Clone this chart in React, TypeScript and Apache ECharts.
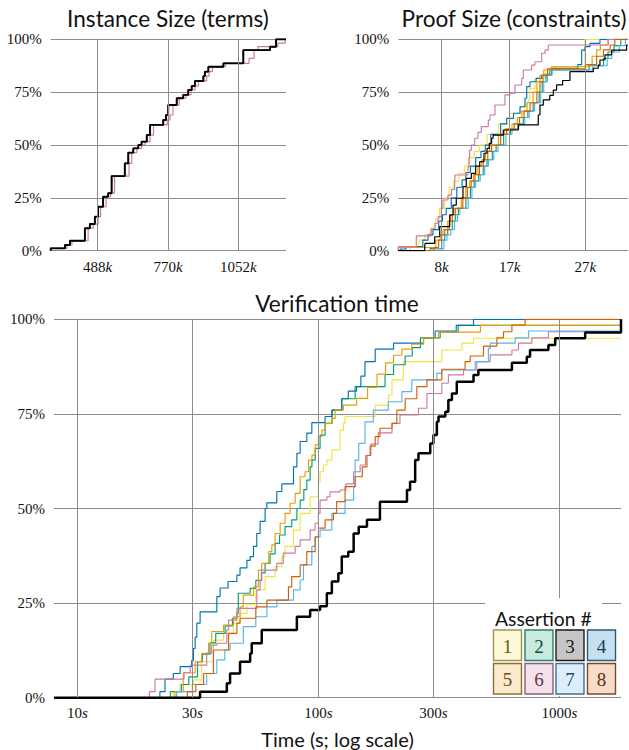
import React, { useEffect, useRef } from 'react';
import * as echarts from 'echarts';

const SERIF = '"Liberation Serif", "DejaVu Serif", serif';
const SANS = 'Lato, "Noto Sans", sans-serif';
const GRID = '#8c8c8c';

const assertionNames = ['1', '2', '3', '4', '5', '6', '7', '8'];
const assertionColors = ['#F0E442', '#009E73', '#000000', '#0072B2', '#E69F00', '#CC79A7', '#56B4E9', '#D55E00'];
const legendFill = ['#FDF8D8', '#C9EADF', '#C6C6C6', '#C7DFEE', '#FBEACB', '#F4E1EB', '#DCEEFA', '#F8DCC7'];
const legendStroke = ['#9C9550', '#2E7D64', '#1A1A1A', '#2C5A7A', '#8B7233', '#8A6079', '#41708E', '#7B4A2A'];
const legendText = ['#5F5A1A', '#0E4D3B', '#1A1A1A', '#123E5F', '#6A4D14', '#5A3D4F', '#1E4C6B', '#5A2E12'];

const pctTicks = [0, 25, 50, 75, 100];
const instanceTicks = [488, 770, 1052];
const proofTicks = [8, 17, 27];
const timeTicks = [10, 30, 100, 300, 1000];

// Instance size (thousands of terms) vs cumulative %
const instanceMain = [[300, 0], [300, 1.1], [357, 2.7], [377, 4.7], [437, 10.6], [457, 12.6], [477, 16.1], [490, 20.8], [510, 25.5], [530, 27.2], [544, 35.3], [597, 41.3], [611, 46.4], [631, 48.4], [651, 50], [664, 51.6], [685, 54.7], [698, 59.5], [751, 61.8], [762, 64.2], [771, 68.9], [805, 72.1], [831, 73.7], [851, 76], [865, 77.9], [878, 80.3], [912, 82.6], [918, 84.7], [932, 87], [992, 88.6], [1072, 94.9], [1179, 96.5], [1203, 100], [1243, 100]];
const instancePink = [[300, 0], [300, 1.1], [365, 2.7], [385, 4.7], [450, 10.6], [470, 12.6], [490, 16.1], [500, 20.8], [522, 25.5], [540, 27.2], [556, 35.3], [614, 41.3], [625, 46.4], [645, 48.4], [664, 50], [678, 51.6], [698, 54.7], [712, 59.5], [767, 61.8], [778, 64.2], [790, 68.9], [815, 72.1], [842, 73.7], [862, 76], [878, 77.9], [892, 80.3], [925, 82.6], [935, 84.7], [948, 87], [1000, 88.6], [1095, 91], [1115, 94.9], [1130, 96.5], [1210, 98.2], [1240, 100], [1243, 100]];

// Proof size (thousands of constraints) vs cumulative %
const proof1 = [[2.26, 0], [3.8, 1.5], [5.0, 5], [5.8, 7.5], [6.5, 10], [7.2, 15], [7.7, 20], [8.4, 25], [9.0, 30], [9.6, 33], [10.3, 36.5], [11.0, 40], [11.7, 44], [12.3, 47], [13.0, 50], [14.0, 55], [15.5, 60], [17.0, 65], [18.4, 68], [19.2, 70], [19.46, 71.3], [19.68, 76.8], [20.34, 81.5], [21.67, 83.9], [22.55, 86.3], [23.0, 87], [26.96, 100], [32.65, 100]];
const proof2 = [[2.26, 0], [6.5, 1], [8.0, 5], [8.4, 7.5], [8.8, 10], [9.4, 14], [9.8, 17], [10.2, 20], [11.2, 25], [11.8, 30], [12.3, 33], [12.9, 36], [13.5, 40], [14.0, 43], [14.7, 47], [15.2, 50], [16.2, 55], [17.1, 57.5], [18.1, 60], [18.8, 63], [19.4, 66], [20.1, 70], [20.9, 75], [21.3, 80], [21.8, 83], [22.3, 85.5], [27.5, 87.5], [29.4, 91], [30.0, 94], [30.8, 97], [31.7, 100], [32.65, 100]];
const proof3 = [[2.26, 0], [5.75, 1.9], [5.8, 3.5], [7.07, 6.6], [7.74, 11.4], [9.06, 16.9], [9.5, 21.6], [9.93, 24.8], [10.82, 30.3], [11.25, 34.2], [11.92, 36.6], [12.5, 40], [13.03, 42.1], [13.6, 46.1], [14.0, 48.4], [14.3, 50.8], [14.6, 53.2], [14.8, 54.7], [16.15, 57.1], [18.13, 59.5], [20.78, 64.2], [21.0, 68.9], [21.44, 71.3], [22.3, 73.5], [22.77, 76], [23.2, 78.4], [24.0, 80.5], [24.97, 84.7], [28.06, 86.3], [28.72, 87.8], [28.94, 90.2], [29.6, 92.6], [30.49, 94.9], [32.47, 97.3], [32.65, 97.3]];
const proof4 = [[2.26, 0], [2.5, 0.8], [3.3, 1.9], [5.5, 5], [6.2, 7.5], [6.85, 10], [7.6, 14], [8.1, 17], [8.6, 20], [9.27, 25], [10.0, 30], [10.7, 33.5], [11.2, 37], [11.8, 40], [12.5, 44], [13.2, 47], [13.77, 50], [14.5, 55], [15.8, 60], [16.6, 62.6], [17.5, 65], [18.36, 68.1], [19.02, 72.1], [19.25, 77.6], [19.68, 79.9], [20.5, 81.5], [21.23, 83.1], [22.55, 86.3], [26.0, 88], [26.52, 94.9], [26.96, 96.5], [27.62, 98.1], [28.94, 100], [32.65, 100]];
const proof5 = [[2.26, 0], [2.26, 1.5], [7.2, 5], [7.8, 7.5], [8.17, 10], [8.8, 14], [9.2, 17], [9.6, 20], [10.6, 25], [11.2, 30], [11.7, 33], [12.2, 36], [12.8, 40], [13.3, 43], [13.8, 47], [14.35, 50], [15.5, 55], [16.3, 57.5], [17.3, 60], [18.0, 63], [18.6, 66], [19.3, 70], [20.1, 75], [20.6, 80], [21.0, 83], [21.5, 85.5], [22.5, 87], [27.4, 88], [27.9, 92], [28.5, 95], [29.0, 97.3], [30.0, 100], [32.65, 100]];
const proof6 = [[2.26, 0], [2.26, 1.9], [4.64, 7], [6.62, 10.6], [7.1, 13], [7.51, 16.1], [7.95, 20], [8.17, 24], [8.83, 26.3], [9.3, 29], [9.72, 31.1], [9.76, 35.8], [11.48, 39.7], [11.6, 44], [11.7, 47.6], [11.92, 50], [12.37, 53.2], [12.8, 56], [13.24, 58.7], [14.17, 61.8], [14.39, 64.2], [15.05, 68.9], [16.37, 73.7], [17.04, 74.5], [17.7, 78.4], [18.58, 81.5], [18.8, 85.5], [19.9, 87.8], [20.34, 89.4], [21.23, 93.4], [21.67, 94.9], [22.1, 97.3], [30.04, 100], [32.65, 100]];
const proof7 = [[2.26, 0], [6.9, 1], [8.3, 5], [8.7, 7.5], [9.2, 10], [9.7, 14], [10.1, 17], [10.4, 20], [11.5, 25], [12.0, 30], [12.5, 33], [13.1, 36], [13.7, 40], [14.2, 43], [14.9, 47], [15.45, 50], [16.5, 55], [17.3, 57.5], [18.2, 60], [19.0, 63], [19.6, 66], [20.3, 70], [21.1, 75], [21.5, 80], [22.0, 83], [22.6, 85.5], [28.0, 87.5], [29.9, 91], [30.5, 94], [31.5, 97], [32.3, 100], [32.65, 100]];
const proof8 = [[2.26, 0], [7.0, 1.5], [7.6, 5], [8.0, 7.5], [8.4, 10], [9.0, 14], [9.4, 17], [9.8, 20], [10.8, 25], [11.4, 30], [11.9, 33], [12.4, 36], [13.0, 40], [13.5, 43], [14.1, 47], [14.6, 50], [15.8, 55], [16.6, 57.5], [17.6, 60], [18.3, 63], [18.9, 66], [19.7, 70], [20.6, 75], [21.0, 80], [21.4, 83], [22.0, 86], [27.0, 88], [28.5, 92], [29.4, 95], [30.3, 97.3], [30.9, 100], [32.65, 100]];

// Verification time (seconds) vs cumulative %
const time1 = [[8, 0], [25, 1.6], [26.7, 3.4], [30.3, 4.7], [32.8, 9.5], [36.7, 15.2], [40.4, 17], [44.4, 19.7], [47.3, 22.3], [50.5, 24.5], [55, 28.5], [60.1, 32], [66.1, 34.6], [70.5, 37.3], [72.7, 40], [78.8, 44.3], [84, 48.7], [92.4, 53.1], [100, 57], [101.6, 59.7], [104.9, 61.5], [108.4, 62.8], [113.7, 65.5], [123, 70.7], [127, 72.5], [129, 74.3], [172, 77.3], [195, 80], [202, 84], [225, 88.8], [325, 91.9], [394, 93.7], [440, 95], [1800, 95]];
const time2 = [[8, 0], [24.3, 1.6], [27, 3.5], [29, 5.5], [31.5, 9.5], [33, 11.5], [35.5, 14.5], [37.5, 17], [41, 19], [44, 21], [45.9, 22.3], [46.5, 27.6], [52.1, 28.9], [55, 31], [58, 33], [60.1, 35.5], [63, 38], [66.1, 40.8], [69, 43], [72.7, 45.2], [77.5, 47], [81.4, 50], [84, 52.2], [87, 55], [89.5, 57.5], [92.4, 61], [94, 62.8], [97, 65.9], [101.6, 69.4], [106.6, 72.5], [114, 76], [125, 79], [142, 82.2], [189, 85.4], [205, 88], [229, 90.3], [245, 92.5], [265, 95.1], [320, 96.6], [380, 98.4], [1800, 100]];
const time3 = [[8, 0], [32.3, 1.6], [41.7, 3.8], [43, 6.4], [47.3, 9.5], [52.1, 11.7], [52.9, 14.4], [58.2, 17.9], [81.4, 21.4], [92.4, 23.2], [101.6, 24.2], [108.4, 27.6], [113.7, 30.7], [121, 32.9], [125, 37.3], [133, 38.6], [140, 43.4], [147, 45.2], [159, 47], [180, 51.8], [233, 54.9], [240, 57.1], [252, 62.8], [260, 64.6], [291, 67.2], [300, 69.4], [310, 72.9], [315, 74.3], [336, 75.6], [346, 78.7], [358, 80.4], [375, 83.5], [440, 85.3], [461, 86.6], [635, 88.5], [732, 90.1], [755, 91.9], [900, 93.2], [960, 95], [1278, 96.5], [1800, 100]];
const time4 = [[8, 0], [22, 1.6], [23.1, 4.9], [25, 6.4], [26.7, 8.2], [29.8, 9.8], [30.3, 13], [30.8, 16], [31.3, 19.7], [32.3, 22.7], [37.9, 26.7], [39.1, 29], [42.2, 30.7], [45.9, 32.4], [47.3, 34.3], [50.5, 36.3], [52.1, 37.3], [53.8, 40], [55.5, 43.4], [57.3, 46.6], [60.1, 50], [61.1, 51.5], [67.2, 54.5], [70.5, 56.5], [78.8, 61], [81.4, 64.6], [84, 67.7], [89.5, 69.9], [93.9, 72.7], [106.6, 74.3], [113.7, 76], [125, 79], [133, 81], [144, 82.2], [150, 85], [156, 88.8], [172, 92.1], [205, 93.7], [273, 95.1], [305, 96.9], [373, 98.4], [440, 100], [1800, 100]];
const time5 = [[8, 0], [25.4, 1.6], [27.5, 6.6], [30.8, 9.5], [32.8, 11.7], [35, 14.4], [36.1, 17.5], [40.4, 19.2], [44.4, 21.4], [47.3, 24], [48.8, 27.1], [53.8, 29.3], [56.4, 33.7], [58.2, 35.5], [62.2, 38.6], [64.1, 40.4], [66.1, 43.4], [69.4, 46.1], [72.7, 48.7], [76.3, 51.4], [80.1, 54], [84, 58.4], [88, 59.7], [91, 62.8], [94, 64.1], [97, 66.8], [100, 69], [103.3, 70.7], [106.6, 72.5], [113.7, 73.8], [117.3, 76], [127, 77.3], [144, 79.1], [160, 82], [175, 85.5], [190, 88.5], [205, 90.5], [222, 92.1], [244, 93.4], [273, 95.1], [315, 96.6], [470, 98.4], [1800, 100]];
const time6 = [[8, 0], [19.9, 1.6], [21, 4.9], [27.7, 6.6], [29.4, 8.6], [34.4, 11.7], [36.1, 13.9], [37.9, 14.4], [41.7, 17.9], [42.4, 20.5], [45.9, 23.6], [55.5, 28.5], [57.3, 31.1], [58.2, 33.7], [67.2, 35.5], [71.5, 38.2], [80.1, 40], [84, 41.7], [92.4, 44.3], [96.9, 46.1], [100, 48.7], [101.6, 52.2], [108.4, 53.1], [111.8, 54.4], [123, 54.9], [130, 56.5], [140, 59.7], [149, 61.5], [157, 64], [165, 67], [177, 70], [202, 72.5], [218, 74.7], [260, 76.5], [282, 80.4], [325, 83.1], [346, 85.3], [400, 86.6], [454, 88.8], [516, 90.6], [635, 91.9], [676, 93.7], [768, 95.1], [900, 96.7], [1800, 100]];
const time7 = [[8, 0], [25.8, 1.6], [30, 3.5], [34.4, 6.4], [37.9, 10], [40.9, 12.6], [43, 14.4], [48.8, 18.8], [55, 21.4], [61.1, 24], [67.2, 25.8], [78.8, 28.5], [84, 31.1], [86.7, 35.1], [93.9, 40], [96.9, 42.5], [101.6, 44.3], [113.7, 48.7], [129, 52.2], [140, 55.8], [142, 62.8], [147, 67.2], [156, 72.9], [169, 76], [195, 78.2], [222, 80.9], [244, 84], [310, 85.7], [325, 86.6], [447, 88.8], [507, 92.3], [516, 93.7], [655, 95.1], [744, 96.9], [1800, 100]];
const time8 = [[8, 0], [28.6, 1.6], [31, 3.5], [33.4, 6.4], [36.7, 12.6], [42.4, 17], [45.9, 19.7], [47.3, 21], [55, 24], [61.1, 25.8], [75.1, 29.3], [77.5, 32], [84, 35.1], [89.5, 38.6], [96.9, 42.5], [100, 44.8], [106.6, 47], [115.4, 48.7], [119, 51.8], [129, 55.8], [142, 58.4], [152, 61], [159, 64], [164, 66.5], [172, 69], [180, 71.2], [202, 72.5], [211.5, 76], [229, 79], [256, 82.2], [282, 84], [325, 86.8], [406, 88.8], [426, 90.3], [484, 92.9], [550, 95.1], [586, 96.7], [635, 98.5], [720, 100], [1800, 100]];

const instanceData = [instanceMain, instanceMain, instanceMain, instanceMain, instanceMain, instancePink, instanceMain, instanceMain];
const proofData = [proof1, proof2, proof3, proof4, proof5, proof6, proof7, proof8];
const timeData = [time1, time2, time3, time4, time5, time6, time7, time8];

const drawOrder = [0, 1, 3, 4, 5, 6, 7, 2];

const tickRich = {
  n: { fontFamily: SERIF, fontSize: 15, color: '#111' },
  u: { fontFamily: SERIF, fontSize: 15, fontStyle: 'italic', color: '#111' },
};

function dataSeries(gi: number, datasets: number[][][], blackWidth: number) {
  return drawOrder.map((i) => ({
    type: 'line',
    name: assertionNames[i],
    xAxisIndex: gi,
    yAxisIndex: gi,
    data: datasets[i],
    step: 'end',
    showSymbol: false,
    symbol: 'none',
    silent: true,
    z: 3,
    lineStyle: { color: assertionColors[i], width: i === 2 ? blackWidth : 1.15 },
    itemStyle: { color: assertionColors[i] },
    emphasis: { disabled: true },
  }));
}

function gridSeries(gi: number, ticks: number[], unit: string, xmin: number, dist: number) {
  return {
    type: 'line',
    xAxisIndex: gi,
    yAxisIndex: gi,
    data: [[xmin, 0]],
    showSymbol: false,
    symbol: 'none',
    lineStyle: { opacity: 0 },
    silent: true,
    z: 1,
    markLine: {
      silent: true,
      symbol: ['none', 'none'],
      animation: false,
      lineStyle: { color: GRID, width: 1, type: 'solid' },
      emphasis: { disabled: true },
      label: { show: true, position: 'start', distance: dist, rich: tickRich },
      data: ticks.map((v) => ({ xAxis: v, label: { formatter: `{n|${v}}{u|${unit}}` } })),
    },
  };
}

function yAxisFor(gi: number) {
  return {
    type: 'value',
    gridIndex: gi,
    min: pctTicks[0],
    max: pctTicks[pctTicks.length - 1],
    interval: 25,
    axisLine: { show: false },
    axisTick: { show: false },
    axisLabel: { formatter: '{value}%', fontFamily: SERIF, fontSize: 15, color: '#111', margin: 9 },
    splitLine: { lineStyle: { color: GRID, width: 1 } },
  };
}

function xAxisFor(gi: number, type: string, min: number, max: number) {
  return {
    type,
    gridIndex: gi,
    min,
    max,
    axisLine: { show: false },
    axisTick: { show: false },
    axisLabel: { show: false },
    splitLine: { show: false },
  };
}

function legendGraphic() {
  const els: any[] = [];
  els.push({ type: 'rect', shape: { x: 485, y: 598, width: 117, height: 32 }, style: { fill: '#fff' }, z: 100 });
  els.push({ type: 'rect', shape: { x: 490, y: 628, width: 128, height: 68 }, style: { fill: '#fff' }, z: 100 });
  els.push({ type: 'text', x: 495, y: 618, z: 101, style: { text: 'Assertion #', font: `19.3px ${SANS}`, fill: '#111', align: 'left', verticalAlign: 'middle' } });
  const colX = [493.5, 525, 556, 587.5];
  const rowY = [630, 663.5];
  for (let i = 0; i < 8; i++) {
    const cx = colX[i % 4];
    const cy = rowY[Math.floor(i / 4)];
    els.push({ type: 'rect', z: 101, shape: { x: cx, y: cy, width: 28, height: 30.5 }, style: { fill: legendFill[i], stroke: legendStroke[i], lineWidth: 1.4 } });
    els.push({ type: 'text', z: 102, x: cx + 14, y: cy + 16, style: { text: assertionNames[i], font: `19px ${SERIF}`, fill: legendText[i], align: 'center', verticalAlign: 'middle' } });
  }
  return els;
}

function titleGraphic() {
  const t = (text: string, x: number, y: number, size: number) => ({
    type: 'text', x, y, z: 100, style: { text, font: `${size}px ${SANS}`, fill: '#111', align: 'center', verticalAlign: 'middle' },
  });
  return [
    t('Instance Size (terms)', 168, 18, 22.6),
    t('Proof Size (constraints)', 514, 18, 22.6),
    t('Verification time', 337, 303, 22.6),
    t('Time (s; log scale)', 337.5, 739, 20),
  ];
}

export default function App() {
  const ref = useRef<HTMLDivElement>(null);
  useEffect(() => {
    if (!ref.current) return;
    const chart = echarts.init(ref.current, undefined, { renderer: 'svg' });
    chart.setOption({
      animation: false,
      backgroundColor: '#fff',
      grid: [
        { left: 50.7, top: 39.3, width: 235.3, height: 211.4 },
        { left: 398.3, top: 39.3, width: 229.7, height: 211.4 },
        { left: 54, top: 319.3, width: 567, height: 378.4 },
      ],
      xAxis: [
        xAxisFor(0, 'value', 300, 1243),
        xAxisFor(1, 'value', 2.26, 32.65),
        xAxisFor(2, 'log', 8, 1800),
      ],
      yAxis: [yAxisFor(0), yAxisFor(1), yAxisFor(2)],
      series: [
        gridSeries(0, instanceTicks, 'k', 300, 9),
        gridSeries(1, proofTicks, 'k', 2.26, 9),
        gridSeries(2, timeTicks, 's', 8, 8),
        ...dataSeries(0, instanceData, 1.9),
        ...dataSeries(1, proofData, 1.2),
        ...dataSeries(2, timeData, 2.5),
      ],
      graphic: [...titleGraphic(), ...legendGraphic()],
    });
    return () => chart.dispose();
  }, []);
  return <div ref={ref} style={{ position: 'fixed', left: 0, top: 0, width: 629, height: 750 }} />;
}
